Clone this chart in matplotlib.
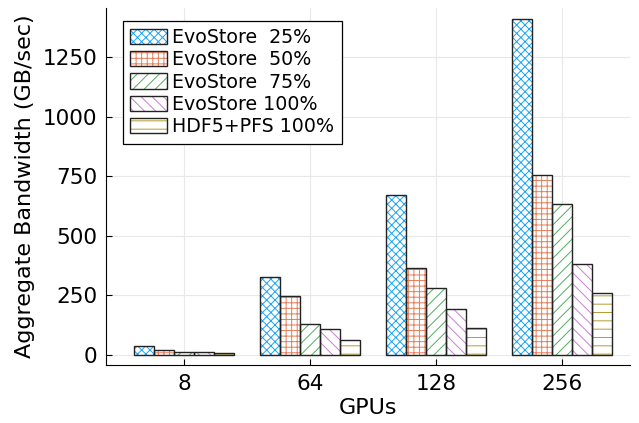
import matplotlib
matplotlib.use("Agg")
import matplotlib.pyplot as plt
import numpy as np
from matplotlib.patches import Patch

# grouped bar chart of aggregate bandwidth vs number of GPUs

gpus = ["8", "64", "128", "256"]
labels = ["EvoStore  25%", "EvoStore  50%", "EvoStore  75%",
          "EvoStore 100%", "HDF5+PFS 100%"]
evo25 = [36, 327, 672, 1408]
evo50 = [20, 246, 367, 753]
evo75 = [14, 130, 283, 632]
evo100 = [11, 108, 192, 381]
hdf5 = [8, 64, 114, 260]

series = [evo25, evo50, evo75, evo100, hdf5]
colors = ["#009AFA", "#E36F47", "#3EA44E", "#C371D2", "#AC8E18"]
hatches = ["xxxx", "+++", "///", "\\\\\\", "--"]

plt.rcParams["hatch.linewidth"] = 0.7


def lighten(c, a=0.9):
    r, g, b = matplotlib.colors.to_rgb(c)
    return (1 - a + a * r, 1 - a + a * g, 1 - a + a * b)


fig, ax = plt.subplots(figsize=(6.39, 4.23), dpi=100)

x = np.arange(len(gpus))
w = 0.159
for k, (vals, c, h) in enumerate(zip(series, colors, hatches)):
    pos = x + (k - 2) * w
    ax.bar(pos, vals, w, color="white", edgecolor=lighten(c), hatch=h,
           linewidth=0, zorder=2)
    ax.bar(pos, vals, w, fill=False, edgecolor="#222222",
           linewidth=1.0, zorder=3)

handles = [(Patch(facecolor="white", edgecolor=lighten(c), hatch=h, linewidth=0),
            Patch(fill=False, edgecolor="#222222", linewidth=1.0))
           for c, h in zip(colors, hatches)]
leg = ax.legend(handles, labels, loc="upper left", fontsize=13.7,
                bbox_to_anchor=(0.032, 0.965), fancybox=False,
                edgecolor="black", framealpha=1, handlelength=1.9,
                handleheight=0.85, labelspacing=0.17, borderpad=0.4,
                handletextpad=0.3, borderaxespad=0)
leg.get_frame().set_linewidth(0.9)

ax.set_xticks(x)
ax.set_xticklabels(gpus)
ax.set_yticks([0, 250, 500, 750, 1000, 1250])
ax.set_xlim(-0.619, 3.54)
ax.set_ylim(-42, 1455)
ax.tick_params(direction="in", labelsize=15.5, length=4, pad=6.5)
ax.grid(True, color="#e8e8e8", linewidth=0.8, zorder=0)
ax.set_axisbelow(True)
for s in ["top", "right"]:
    ax.spines[s].set_visible(False)

ax.set_xlabel("GPUs", fontsize=16, labelpad=3)
ax.set_ylabel("Aggregate Bandwidth (GB/sec)", fontsize=16, labelpad=5)

plt.subplots_adjust(left=0.166, right=0.986, bottom=0.137, top=0.981)
plt.savefig("out.png", dpi=100)
